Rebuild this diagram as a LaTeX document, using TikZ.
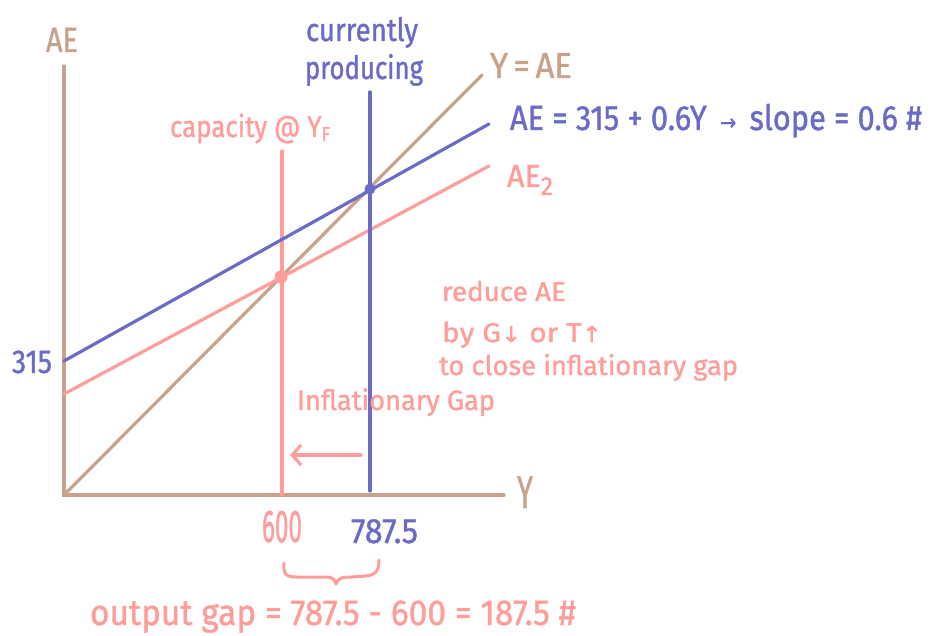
\documentclass[tikz,border=0pt]{standalone}
\usepackage{fontspec}
\setmainfont{Fira Sans}[FakeBold=1.2]
\newfontfamily\symf{DejaVu Sans}[FakeBold=1.2]
\usetikzlibrary{arrows.meta}
\definecolor{tan}{HTML}{C9A28B}
\definecolor{blu}{HTML}{6B6BC6}
\definecolor{pnk}{HTML}{FF9D9A}
\newcommand\tx[2]{\resizebox{#1pt}{\height}{#2}}
\newcommand\fs[1]{\fontsize{#1}{#1}\selectfont}
\begin{document}
\begin{tikzpicture}[x=1pt,y=-1pt,
  ln/.style={line width=3.2pt,line cap=round},
  lb/.style={anchor=base west,inner sep=0pt,outer sep=0pt}]
\useasboundingbox (0,0) rectangle (930,636);
% coordinates
\coordinate (O) at (64,495);
\coordinate (Ytop) at (64,66);
\coordinate (Xend) at (504,495);
\coordinate (YAEend) at (482,75);
\coordinate (AEs) at (64,361);
\coordinate (AEe) at (489,124);
\coordinate (AE2s) at (64,394);
\coordinate (AE2e) at (489,166);
\coordinate (capT) at (282,151);
\coordinate (capB) at (282,495);
\coordinate (curT) at (370,92);
\coordinate (curB) at (370,491);
\coordinate (arS) at (361,455);
\coordinate (arE) at (290,455);
% lines
\draw[ln,tan] (Ytop) -- (O) -- (Xend);
\draw[ln,tan] (O) -- (YAEend);
\draw[ln,pnk] (capT) -- (capB);
\draw[ln,pnk] (AE2s) -- (AE2e);
\draw[ln,blu] (AEs) -- (AEe);
\draw[ln,blu] (curT) -- (curB);
\fill[blu] (370,189) circle (5.5);
\fill[pnk] (281,277) circle (6.5);
\draw[ln,pnk,-{Straight Barb[length=9pt,width=20pt,line width=3.2pt]}] (arS) -- (arE);
% brace
\draw[line width=3pt,line cap=round,line join=round,pnk]
  (284,563) .. controls (283,574) and (286,577) .. (296,577)
  -- (326,577) .. controls (332,577) and (335,579) .. (336,584)
  .. controls (338,578) and (342,577) .. (352,577)
  -- (366,576) .. controls (376,575) and (379,570) .. (379,560);
% labels
\node[lb,tan,font=\fs{35}] (lAE) at (46,52) {\tx{32}{AE}};
\node[lb,blu,font=\fs{32}] (lcur1) at (306,41) {\tx{112}{currently}};
\node[lb,blu,font=\fs{32}] (lcur2) at (305,79) {\tx{118}{producing}};
\node[lb,pnk,font=\fs{30}] (lcap) at (170,137) {\tx{160}{capacity @ Y\raisebox{-4pt}{\fs{20}F}}};
\node[lb,tan,font=\fs{36}] (lYAE) at (490,78) {\tx{82}{Y\,=\,AE}};
\node[lb,blu,font=\fs{35}] (lAEeq) at (510,130) {\tx{412}{AE = 315 + 0.6Y \,{\symf\fs{22}→}\, slope = 0.6 \#}};
\node[lb,pnk,font=\fs{32}] (lAE2) at (507,187) {\tx{46}{AE\raisebox{-8pt}{\fs{26}2}}};
\node[lb,blu,font=\fs{33}] (l315) at (12,373) {\tx{40}{315}};
\node[lb,pnk,font=\fs{27}] (lr1) at (442,301) {\tx{124}{reduce AE}};
\node[lb,pnk,font=\fs{27}] (lr2) at (442,342) {\tx{160}{by G{\symf\fs{22}↓} or T{\symf\fs{22}↑}}};
\node[lb,pnk,font=\fs{27}] (lr3) at (439,375) {\tx{299}{to close inflationary gap}};
\node[lb,pnk,font=\fs{28}] (linf) at (297,410) {\tx{198}{Inflationary Gap}};
\node[lb,tan,font=\fs{46}] (lY) at (517,508) {\tx{16}{Y}};
\node[lb,pnk,font=\fs{46}] (l600) at (262,542) {\tx{40}{600}};
\node[lb,blu,font=\fs{35}] (l787) at (351,543) {\tx{67}{787.5}};
\node[lb,pnk,font=\fs{36}] (lout) at (90,625) {\tx{486}{output gap = 787.5 - 600 = 187.5 \#}};
\end{tikzpicture}
\end{document}
